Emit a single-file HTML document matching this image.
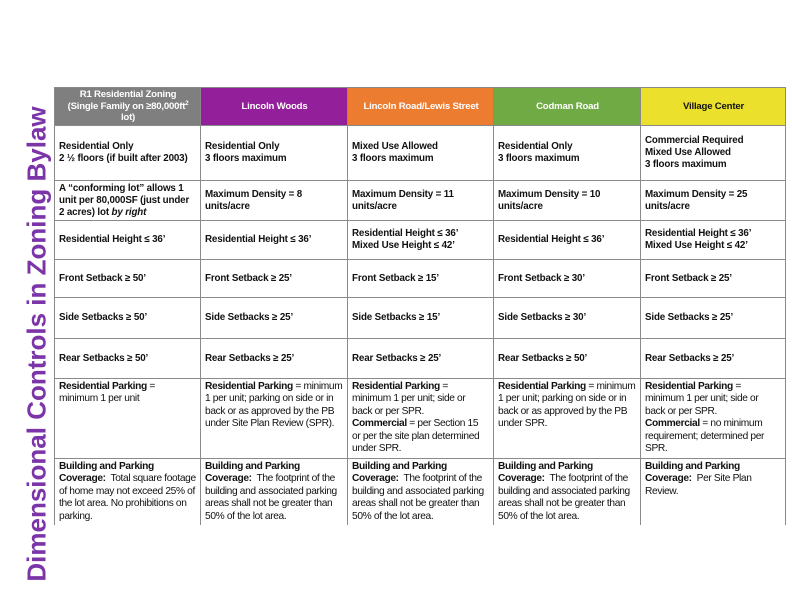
<!DOCTYPE html>
<html><head><meta charset="utf-8"><style>
body{margin:0;width:792px;height:612px;background:#fff;position:relative;overflow:hidden;font-family:"Liberation Sans",Arial,sans-serif;}
.title{position:absolute;left:37px;top:344px;transform:translate(-50%,-50%) rotate(-90deg);white-space:nowrap;font-weight:bold;font-size:26px;color:#7b35a8;}
table{position:absolute;left:54px;top:87px;border-collapse:collapse;table-layout:fixed;}
td{border:1px solid #8a8a8a;padding:0 3px 0 4px;font-size:9.8px;line-height:12px;color:#111;vertical-align:middle;font-weight:bold;overflow:hidden;letter-spacing:-0.15px;}
tr.h td{color:#fff;text-align:center;font-size:9.6px;line-height:11.5px;letter-spacing:-0.2px;}
td.n{font-weight:normal;vertical-align:top;padding-top:2px;font-size:10.2px;line-height:12.4px;letter-spacing:-0.35px;}
td.n b{font-weight:bold;}
tr.last td{border-bottom:none;}
</style></head><body>
<div class="title">Dimensional Controls in Zoning Bylaw</div>
<table>
<colgroup><col style="width:146px"><col style="width:147px"><col style="width:146px"><col style="width:147px"><col style="width:145px"></colgroup>
<tr class="h" style="height:38px">
<td style="background:#7f7f7f">R1 Residential Zoning<br>(Single Family on ≥80,000ft<sup style="font-size:6px;line-height:0">2</sup><br>lot)</td>
<td style="background:#931f9a">Lincoln Woods</td>
<td style="background:#ec7c30">Lincoln Road/Lewis Street</td>
<td style="background:#6faa45">Codman Road</td>
<td style="background:#ebe12c;color:#111">Village Center</td></tr>
<tr style="height:55px"><td>Residential Only<br>2 ½ floors (if built after 2003)</td><td>Residential Only<br>3 floors maximum</td><td>Mixed Use Allowed<br>3 floors maximum</td><td>Residential Only<br>3 floors maximum</td><td>Commercial Required<br>Mixed Use Allowed<br>3 floors maximum</td></tr>
<tr style="height:40px"><td>A “conforming lot” allows 1<br>unit per 80,000SF (just under<br>2 acres) lot <i>by right</i></td><td>Maximum Density = 8<br>units/acre</td><td>Maximum Density = 11<br>units/acre</td><td>Maximum Density = 10<br>units/acre</td><td>Maximum Density = 25<br>units/acre</td></tr>
<tr style="height:39px"><td>Residential Height ≤ 36’</td><td>Residential Height ≤ 36’</td><td>Residential Height ≤ 36’<br>Mixed Use Height ≤ 42’</td><td>Residential Height ≤ 36’</td><td>Residential Height ≤ 36’<br>Mixed Use Height ≤ 42’</td></tr>
<tr style="height:38px"><td>Front Setback ≥ 50’</td><td>Front Setback ≥ 25’</td><td>Front Setback ≥ 15’</td><td>Front Setback ≥ 30’</td><td>Front Setback ≥ 25’</td></tr>
<tr style="height:41px"><td>Side Setbacks ≥ 50’</td><td>Side Setbacks ≥ 25’</td><td>Side Setbacks ≥ 15’</td><td>Side Setbacks ≥ 30’</td><td>Side Setbacks ≥ 25’</td></tr>
<tr style="height:40px"><td>Rear Setbacks ≥ 50’</td><td>Rear Setbacks ≥ 25’</td><td>Rear Setbacks ≥ 25’</td><td>Rear Setbacks ≥ 50’</td><td>Rear Setbacks ≥ 25’</td></tr>
<tr style="height:80px"><td class="n"><b>Residential Parking</b> =<br>minimum 1 per unit</td><td class="n"><b>Residential Parking</b> = minimum<br>1 per unit; parking on side or in<br>back or as approved by the PB<br>under Site Plan Review (SPR).</td><td class="n"><b>Residential Parking</b> =<br>minimum 1 per unit; side or<br>back or per SPR.<br><b>Commercial</b> = per Section 15<br>or per the site plan determined<br>under SPR.</td><td class="n"><b>Residential Parking</b> = minimum<br>1 per unit; parking on side or in<br>back or as approved by the PB<br>under SPR.</td><td class="n"><b>Residential Parking</b> =<br>minimum 1 per unit; side or<br>back or per SPR.<br><b>Commercial</b> = no minimum<br>requirement; determined per<br>SPR.</td></tr>
<tr class="last" style="height:66px"><td class="n"><b>Building and Parking<br>Coverage:</b>&nbsp; Total square footage<br>of home may not exceed 25% of<br>the lot area. No prohibitions on<br>parking.</td><td class="n"><b>Building and Parking<br>Coverage:</b>&nbsp; The footprint of the<br>building and associated parking<br>areas shall not be greater than<br>50% of the lot area.</td><td class="n"><b>Building and Parking<br>Coverage:</b>&nbsp; The footprint of the<br>building and associated parking<br>areas shall not be greater than<br>50% of the lot area.</td><td class="n"><b>Building and Parking<br>Coverage:</b>&nbsp; The footprint of the<br>building and associated parking<br>areas shall not be greater than<br>50% of the lot area.</td><td class="n"><b>Building and Parking<br>Coverage:</b>&nbsp; Per Site Plan<br>Review.</td></tr>
</table>
</body></html>
